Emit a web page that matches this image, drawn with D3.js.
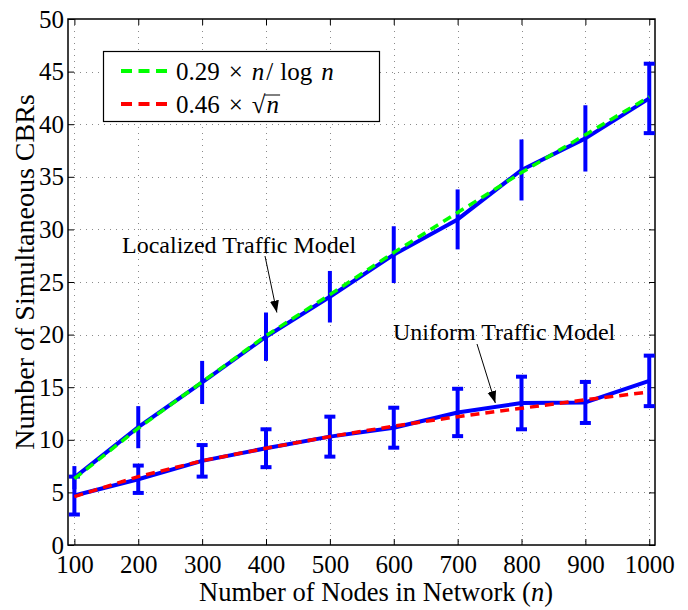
<!DOCTYPE html>
<html>
<head>
<meta charset="utf-8">
<script src="https://cdn.jsdelivr.net/npm/d3@7"></script>
<style>
  body { margin: 0; background: #fff; }
  text { font-family: "Liberation Serif", "DejaVu Serif", serif; fill: #000; }
</style>
</head>
<body>
<svg width="688" height="610"></svg>
<script>
// values
var nodes = [100, 200, 300, 400, 500, 600, 700, 800, 900, 1000];
var localized = [6.4, 11.2, 15.45, 19.8, 23.6, 27.6, 30.95, 35.65, 38.65, 42.45];
var localizedErr = [1.1, 2.0, 2.05, 2.3, 2.45, 2.7, 2.85, 2.9, 3.15, 3.3];
var uniform = [4.7, 6.25, 8.0, 9.2, 10.3, 11.15, 12.6, 13.5, 13.55, 15.6];
var uniformErr = [1.8, 1.3, 1.5, 1.8, 1.9, 1.9, 2.25, 2.5, 1.95, 2.4];
var fitLocal = [6.3, 11.1, 15.5, 19.9, 23.8, 27.8, 31.6, 35.4, 39.0, 42.6];
var fitUniform = [4.6, 6.5, 8.0, 9.2, 10.3, 11.3, 12.2, 13.0, 13.8, 14.55];
var xTicks = [100, 200, 300, 400, 500, 600, 700, 800, 900, 1000];
var yTicks = [0, 5, 10, 15, 20, 25, 30, 35, 40, 45, 50];

var svg = d3.select("svg");
var mLeft = 68, mRight = 655, mTop = 19, mBottom = 545;

var x = d3.scaleLinear().domain([90, 1009]).range([mLeft, mRight]);
var y = d3.scaleLinear().domain([0, 50]).range([mBottom, mTop]);

svg.append("defs").append("clipPath").attr("id", "plot")
  .append("rect").attr("x", mLeft).attr("y", mTop)
  .attr("width", mRight - mLeft).attr("height", mBottom - mTop);

// dotted grid
var grid = svg.append("g").attr("stroke", "#8a8a8a").attr("stroke-width", 1)
  .attr("stroke-dasharray", "1,5");
grid.selectAll(".gx").data(xTicks).join("line")
  .attr("x1", d => Math.round(x(d)) + 0.5).attr("x2", d => Math.round(x(d)) + 0.5)
  .attr("y1", mTop).attr("y2", mBottom);
grid.selectAll(".gy").data(yTicks.slice(1, -1)).join("line")
  .attr("x1", mLeft).attr("x2", mRight)
  .attr("y1", d => Math.round(y(d)) + 0.5).attr("y2", d => Math.round(y(d)) + 0.5);

// axes with inward ticks on all sides
var tickLen = 6;
svg.append("g").attr("transform", "translate(0," + mBottom + ")")
  .call(d3.axisBottom(x).tickValues(xTicks).tickSize(-tickLen).tickPadding(10).tickFormat(d3.format("d")))
  .call(g => g.select(".domain").remove());
svg.append("g").attr("transform", "translate(0," + mTop + ")")
  .call(d3.axisTop(x).tickValues(xTicks).tickSize(-tickLen).tickFormat(""))
  .call(g => g.select(".domain").remove());
svg.append("g").attr("transform", "translate(" + mLeft + ",0)")
  .call(d3.axisLeft(y).tickValues(yTicks).tickSize(-tickLen).tickPadding(4))
  .call(g => g.select(".domain").remove());
svg.append("g").attr("transform", "translate(" + mRight + ",0)")
  .call(d3.axisRight(y).tickValues(yTicks).tickSize(-tickLen).tickFormat(""))
  .call(g => g.select(".domain").remove());
svg.selectAll(".tick line").attr("stroke", "#000").attr("stroke-width", 1);
svg.selectAll(".tick text").style("font-size", "25px")
  .style("font-family", "'Liberation Serif', serif");

svg.append("rect").attr("x", mLeft).attr("y", mTop)
  .attr("width", mRight - mLeft).attr("height", mBottom - mTop)
  .attr("fill", "none").attr("stroke", "#000").attr("stroke-width", 1.5);

var plot = svg.append("g").attr("clip-path", "url(#plot)");
var line = d3.line().x(d => x(d[0])).y(d => y(d[1]));

function drawSeries(vals, errs, capAt) {
  var pts = nodes.map((n, i) => [n, vals[i]]);
  plot.append("path").datum(pts).attr("d", line)
    .attr("fill", "none").attr("stroke", "#0000ff").attr("stroke-width", 4)
    .attr("stroke-linejoin", "round");
  var g = plot.append("g").attr("stroke", "#0000ff").attr("stroke-width", 4);
  nodes.forEach(function (n, i) {
    var lo = vals[i] - errs[i], hi = vals[i] + errs[i];
    g.append("line").attr("x1", x(n)).attr("x2", x(n))
      .attr("y1", y(lo)).attr("y2", y(hi));
    if (capAt(i)) {
      [lo, hi].forEach(function (v) {
        g.append("line").attr("x1", x(n) - 5.5).attr("x2", x(n) + 5.5)
          .attr("y1", y(v)).attr("y2", y(v));
      });
    }
  });
}

drawSeries(uniform, uniformErr, i => true);
drawSeries(localized, localizedErr, i => i == nodes.length - 1);

function drawFit(vals, color) {
  plot.append("path").datum(nodes.map((n, i) => [n, vals[i]])).attr("d", line)
    .attr("fill", "none").attr("stroke", color).attr("stroke-width", 3.5)
    .attr("stroke-dasharray", "9,6");
}
drawFit(fitLocal, "#00ff00");
drawFit(fitUniform, "#ff0000");

// annotations
svg.append("defs").append("marker").attr("id", "head")
  .attr("viewBox", "0 0 12 10").attr("refX", 12).attr("refY", 5)
  .attr("markerWidth", 12).attr("markerHeight", 10).attr("orient", "auto")
  .attr("markerUnits", "userSpaceOnUse")
  .append("path").attr("d", "M0,0.5 L12,5 L0,9.5 z").attr("fill", "#000");

function annotate(label, tx, ty, fromX, fromY, toN, toV) {
  svg.append("line").attr("x1", fromX).attr("y1", fromY)
    .attr("x2", x(toN)).attr("y2", y(toV))
    .attr("stroke", "#000").attr("stroke-width", 1).attr("marker-end", "url(#head)");
  svg.append("text").attr("x", tx).attr("y", ty).style("font-size", "24px").text(label);
}
annotate("Localized Traffic Model", 122, 253, 265, 256, 417, 22.1);
annotate("Uniform Traffic Model", 393, 340, 477, 344, 759, 13.5);

// legend
var legend = svg.append("g");
legend.append("rect").attr("x", 103.5).attr("y", 51.5).attr("width", 276).attr("height", 70)
  .attr("fill", "#fff").attr("stroke", "#000").attr("stroke-width", 1.2);
var entries = [
  { color: "#00ff00", yy: 71 },
  { color: "#ff0000", yy: 104 }
];
entries.forEach(function (e) {
  legend.append("line").attr("x1", 121).attr("x2", 167).attr("y1", e.yy).attr("y2", e.yy)
    .attr("stroke", e.color).attr("stroke-width", 4).attr("stroke-dasharray", "11,6.5");
});
var t1 = legend.append("text").attr("x", 176).attr("y", 80).style("font-size", "25px");
t1.append("tspan").text("0.29");
t1.append("tspan").attr("dx", 9).text("×");
t1.append("tspan").attr("dx", 9).style("font-style", "italic").text("n");
t1.append("tspan").attr("dx", 2).text("/");
t1.append("tspan").attr("dx", 7).text("log");
t1.append("tspan").attr("dx", 9).style("font-style", "italic").text("n");
var t2 = legend.append("text").attr("x", 176).attr("y", 113).style("font-size", "25px");
t2.append("tspan").text("0.46");
t2.append("tspan").attr("dx", 9).text("×");
t2.append("tspan").attr("dx", 9).text("√");
var nSpan = t2.append("tspan").attr("dx", 1).style("font-style", "italic").text("n");
var bb = nSpan.node().getBBox();
legend.append("line").attr("x1", bb.x - 2).attr("x2", bb.x + bb.width + 1)
  .attr("y1", bb.y + 4).attr("y2", bb.y + 4).attr("stroke", "#000").attr("stroke-width", 1);

// axis titles
svg.append("text").attr("x", 376).attr("y", 601)
  .attr("text-anchor", "middle").style("font-size", "26.5px")
  .call(t => {
    t.append("tspan").text("Number of Nodes in Network (");
    t.append("tspan").style("font-style", "italic").text("n");
    t.append("tspan").text(")");
  });
svg.append("text").attr("transform", "translate(34,272) rotate(-90)")
  .attr("text-anchor", "middle").style("font-size", "28px")
  .text("Number of Simultaneous CBRs");
</script>
</body>
</html>
